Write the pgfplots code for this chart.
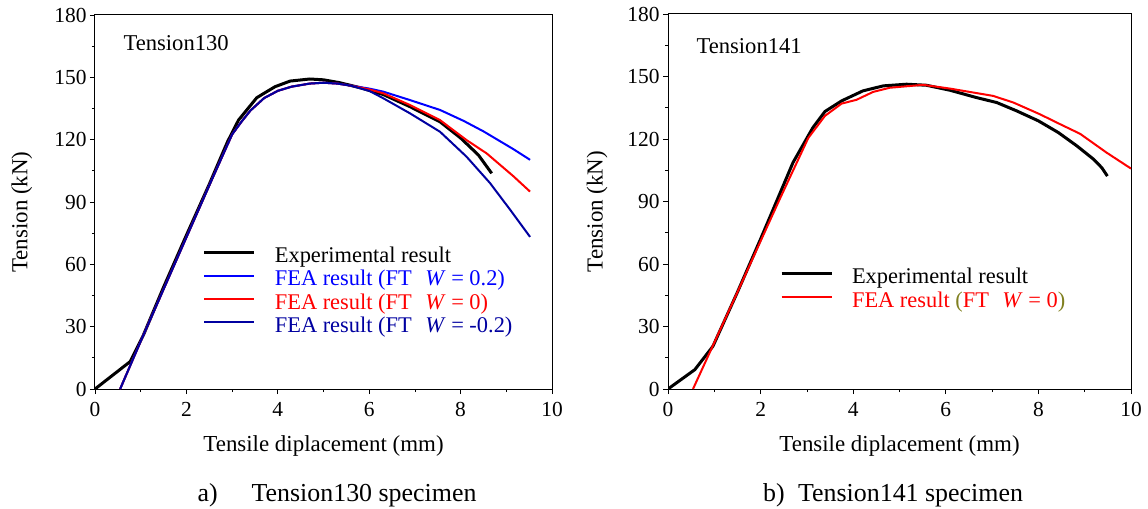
\documentclass[border=0pt]{standalone}
\usepackage{pgfplots}
\pgfplotsset{compat=1.18}
\usepackage{fontspec}
\setmainfont{Liberation Serif}
\definecolor{navyb}{RGB}{0,0,160}
\definecolor{fblue}{RGB}{0,0,255}
\definecolor{fred}{RGB}{255,0,0}
\definecolor{olivep}{RGB}{128,128,32}
\newcommand{\ls}{\rule[-6bp]{0pt}{27.7bp}}
\pgfplotsset{common/.style={
  scale only axis, height=374bp, xmin=0,xmax=10,ymin=0,ymax=180,
  xtick={0,2,4,6,8,10}, ytick={0,30,60,90,120,150,180},
  minor x tick num=1, minor y tick num=1,
  tick align=outside, xtick pos=bottom, ytick pos=left,
  major tick length=5bp, minor tick length=3bp,
  every tick/.style={black, line width=0.8bp},
  axis line style={line width=1bp},
  ticklabel style={font=\fontsize{21.5}{21.5}\selectfont},
  xticklabel style={yshift=-5bp},
  /pgf/number format/assume math mode=true,
  label style={font=\fontsize{23}{23}\selectfont},
  xlabel={Tensile diplacement (mm)}, ylabel={Tension (kN)},
  xlabel style={at={(axis description cs:0.5,-0.152)}, anchor=center},
  legend image code/.code={\draw[#1] (0bp,0bp) -- (50bp,0bp);},
  legend style={draw=none, fill=none, inner sep=0pt, outer sep=0pt, row sep=0pt, anchor=north west,
     nodes={inner sep=0pt, outer sep=0pt}, font=\fontsize{22.5}{22.5}\selectfont,
     /tikz/every odd column/.append style={column sep=19bp}},
  legend cell align=left,
}}
\begin{document}
\begin{tikzpicture}
\path[use as bounding box] (-95bp,-120bp) rectangle (1053bp,389bp);
\begin{axis}[common, width=457bp, at={(0bp,0bp)}, anchor=south west,
  ylabel style={at={(axis description cs:-0.160,0.473)}, anchor=center},
  legend style={at={(axis cs:2.36,71.2)}}]
\addplot[black, line width=3bp, line join=round] coordinates {
(0,0)(0.77,13.2)(1.06,26)(1.5,49)(2.0,74)(2.5,98.5)(2.9,119)(3.14,129.4)(3.54,140.2)(3.94,145.5)(4.27,148.2)(4.7,149.2)(5.0,148.8)(5.36,147.4)(5.8,145)(6.31,141.7)(6.89,135.9)(7.55,128.6)(8.0,120.8)(8.39,112.6)(8.68,103.8)};
\addlegendentry{\ls Experimental result}
\addplot[fblue, line width=2bp, line join=round] coordinates {
(0.55,0)(1.0,23)(1.5,48)(2.0,73)(2.5,98)(3.0,122.5)(3.2,128.5)(3.4,134)(3.7,140)(4.0,143.5)(4.3,145.5)(4.7,147)(5.0,147.4)(5.3,147)(5.6,146)(6.0,144.6)(6.31,143.1)(6.9,139)(7.55,134.3)(8.07,129)(8.5,124)(9.15,115.5)(9.52,110.3)};
\addlegendentry{\ls\textcolor{fblue}{FEA result (FT\hspace{0.6em}\textit{W} = 0.2)}}
\addplot[fred, line width=2bp, line join=round] coordinates {
(0.55,0)(1.0,23)(1.5,48)(2.0,73)(2.5,98)(3.0,122.5)(3.2,128.5)(3.4,134)(3.7,140)(4.0,143.5)(4.3,145.5)(4.7,147)(5.0,147.4)(5.3,147)(5.6,146)(6.0,144.2)(6.31,142.3)(6.89,136.7)(7.55,129.4)(8.13,119.8)(8.57,113.4)(9.15,102.5)(9.52,95)};
\addlegendentry{\ls\textcolor{fred}{FEA result (FT\hspace{0.6em}\textit{W} = 0)}}
\addplot[navyb, line width=2bp, line join=round] coordinates {
(0.55,0)(1.0,23)(1.5,48)(2.0,73)(2.5,98)(3.0,122.5)(3.2,128.5)(3.4,134)(3.7,140)(4.0,143.5)(4.3,145.5)(4.7,147)(5.0,147.4)(5.3,147)(5.6,146)(6.0,143.5)(6.31,139.9)(6.89,132.7)(7.55,123.8)(8.13,111.8)(8.64,99.2)(9.08,86.4)(9.52,73.2)};
\addlegendentry{\ls\textcolor{navyb}{FEA result (FT\hspace{0.6em}\textit{W} = -0.2)}}
\node[anchor=west, font=\fontsize{22.7}{22.7}\selectfont] at (axis cs:0.547,166.5) {Tension130};
\end{axis}
\begin{axis}[common, width=463bp, at={(573bp,0bp)}, anchor=south west, height=375bp,
  ylabel style={at={(axis description cs:-0.153,0.473)}, anchor=center},
  legend style={at={(axis cs:2.42,60.9)}}]
\addplot[black, line width=3bp, line join=round] coordinates {
(0,0)(0.58,9.3)(0.97,20.5)(1.5,46.5)(2.0,72)(2.7,108.7)(3.13,125.5)(3.39,133.2)(3.75,138.3)(4.21,143.1)(4.65,145.5)(5.15,146.3)(5.58,145.8)(6.09,143.4)(6.66,139.9)(7.1,137.5)(7.53,133.5)(8.0,128.7)(8.43,123.1)(8.83,116.7)(9.19,110.3)(9.37,106.2)(9.49,102.2)};
\addlegendentry{\ls Experimental result}
\addplot[fred, line width=2bp, line join=round] coordinates {
(0.54,0)(1.0,22.3)(1.5,46.5)(2.0,71)(2.41,91)(3.03,120.5)(3.39,131.1)(3.75,137)(4.07,138.8)(4.43,142.6)(4.79,144.6)(5.51,146)(6.09,144.2)(7.02,140.7)(7.46,137.5)(8.03,131.9)(8.47,127.1)(8.9,122.5)(9.47,113.5)(10,105.8)};
\addlegendentry{\ls\textcolor{fred}{FEA result }\textcolor{olivep}{(}\textcolor{fred}{FT\hspace{0.6em}\textit{W} = 0}\textcolor{olivep}{)}}
\node[anchor=west, font=\fontsize{22.7}{22.7}\selectfont] at (axis cs:0.54,164.7) {Tension141};
\end{axis}
\node[font=\fontsize{26}{26}\selectfont] at (242bp,-106bp) {a)\hspace{34bp}Tension130 specimen};
\node[font=\fontsize{26}{26}\selectfont] at (798bp,-106bp) {b)\hspace{13.5bp}Tension141 specimen};
\end{tikzpicture}
\end{document}
